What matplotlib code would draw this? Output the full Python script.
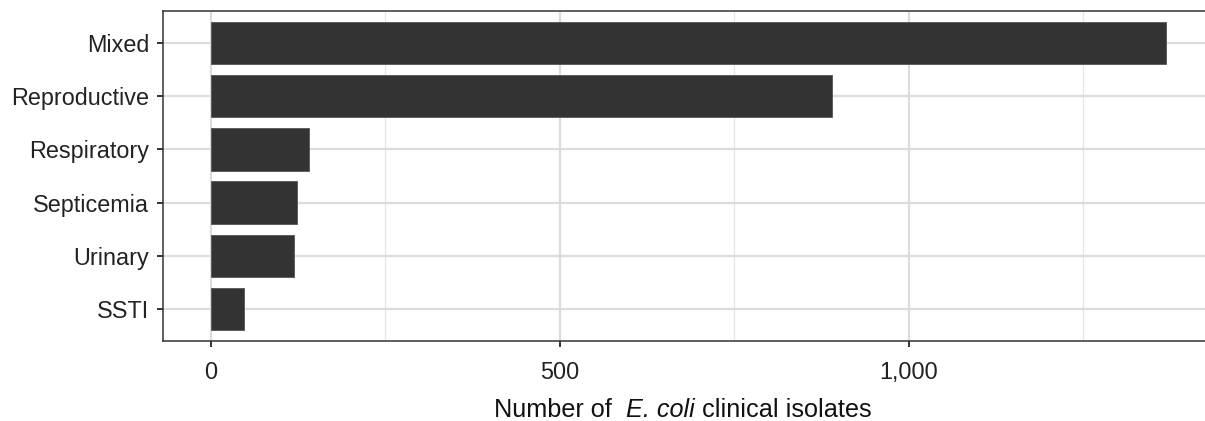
import matplotlib
matplotlib.use("Agg")
import matplotlib.pyplot as plt
from matplotlib.ticker import FixedLocator, FuncFormatter

categories = ["Mixed", "Reproductive", "Respiratory", "Septicemia", "Urinary", "SSTI"]
counts = [1369, 890, 141, 123, 119, 47]
x_major = [0, 500, 1000]
x_minor = [250, 750, 1250]
xlabel_parts = [("Number of  ", "normal"), ("E. coli", "italic"), (" clinical isolates", "normal")]

plt.rcParams['font.family'] = ['Liberation Sans', 'DejaVu Sans']

W, H = 1205, 421
fig = plt.figure(figsize=(W / 100, H / 100), dpi=100)
left, right, top, bottom = 163, 1214, 11, 341
ax = fig.add_axes([left / W, (H - bottom) / H, (right - left) / W, (bottom - top) / H])

n = len(categories)
ypos = list(range(n))
ax.barh(ypos, counts, height=0.8, color="#333333", edgecolor="#555555", linewidth=0.6, zorder=3)

xmax = max(counts)
pad = 0.05 * xmax
ax.set_xlim(-pad, xmax + pad)
ax.set_ylim(n - 1 + 0.6, -0.6)

ax.set_yticks(ypos)
ax.set_yticklabels(categories)
ax.xaxis.set_major_locator(FixedLocator(x_major))
ax.xaxis.set_minor_locator(FixedLocator(x_minor))
ax.xaxis.set_major_formatter(FuncFormatter(lambda v, p: f"{int(v):,}"))

ax.grid(True, which="major", color="#dcdcdc", linewidth=1.6, zorder=0)
ax.grid(True, which="minor", axis="x", color="#e6e6e6", linewidth=0.9, zorder=0)
ax.set_axisbelow(True)

for s in ax.spines.values():
    s.set_color("#333333")
    s.set_linewidth(1.1)

ax.tick_params(axis="both", which="major", length=4.5, width=1.3, color="#222222",
               labelsize=16.8, labelcolor="#222222")
ax.tick_params(axis="x", which="major", pad=10)
ax.tick_params(axis="y", which="major", pad=5.5)
ax.tick_params(axis="x", which="minor", length=0)

# x-axis title composed of normal + italic parts
fig.canvas.draw()
renderer = fig.canvas.get_renderer()
texts = []
for s, style in xlabel_parts:
    t = fig.text(0, 0, s, fontsize=18.2, style=style, color="#111111", va="baseline", ha="left")
    texts.append(t)
widths = [t.get_window_extent(renderer).width for t in texts]
total = sum(widths)
cx = 683
x = cx - total / 2
ypix = H - 417
for t, w in zip(texts, widths):
    t.set_position((x / W, ypix / H))
    x += w

fig.savefig("out.png", dpi=100)
